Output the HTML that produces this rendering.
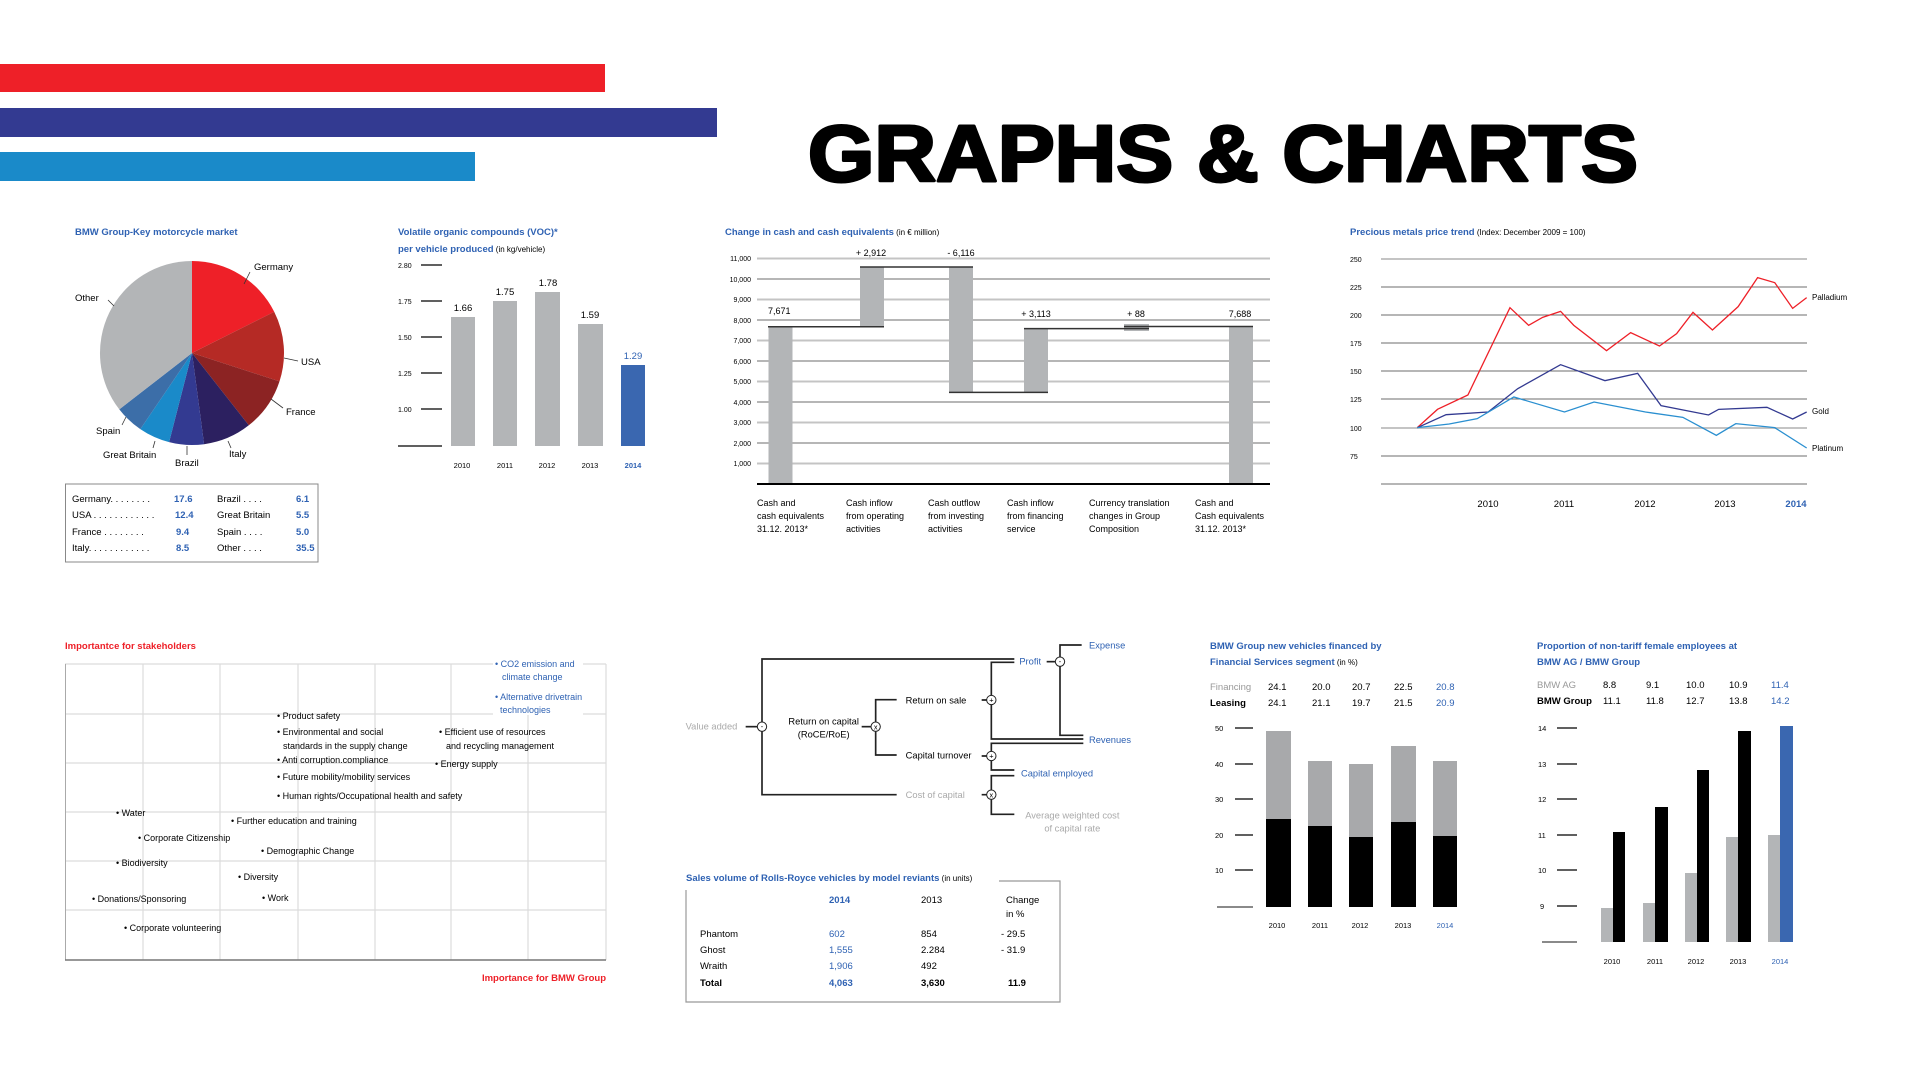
<!DOCTYPE html>
<html><head><meta charset="utf-8"><style>
html,body{margin:0;padding:0;background:#fff;}
svg{display:block;font-family:"Liberation Sans",Arial,sans-serif;}
.t{font-size:9.5px;fill:#000;}
.s{font-size:8px;fill:#000;}
.b{fill:#2f62b3;}
.ti{font-size:9.5px;font-weight:bold;fill:#2f62b3;}
.g{fill:#9a9a9a;}
</style></head><body>
<svg width="1921" height="1080" viewBox="0 0 1921 1080" xmlns="http://www.w3.org/2000/svg">
<rect width="1921" height="1080" fill="#fff"/>
<!-- header bars -->
<rect x="0" y="64" width="605" height="28" fill="#ee2028"/>
<rect x="0" y="108" width="717" height="29" fill="#333a91"/>
<rect x="0" y="152" width="475" height="29" fill="#1a8ac9"/>
<text x="808" y="181" font-size="80" textLength="830" lengthAdjust="spacingAndGlyphs" fill="#000" stroke="#000" stroke-width="3" stroke-linejoin="round" style="font-family:'Liberation Sans',sans-serif;font-weight:bold">GRAPHS &amp; CHARTS</text>

<!-- PIE -->
<text x="75" y="235" class="ti">BMW Group-Key motorcycle market</text>
<path d="M192,353 L192,261 A92,92 0 0 1 274.2,311.7 Z" fill="#ee2028"/>
<path d="M192,353 L274.2,311.7 A92,92 0 0 1 279.5,381.4 Z" fill="#b52a25"/>
<path d="M192,353 L279.5,381.4 A92,92 0 0 1 248.8,425.3 Z" fill="#8c2323"/>
<path d="M192,353 L248.8,425.3 A92,92 0 0 1 204.1,444.2 Z" fill="#2c2060"/>
<path d="M192,353 L204.1,444.2 A92,92 0 0 1 169.1,442.1 Z" fill="#333a91"/>
<path d="M192,353 L169.1,442.1 A92,92 0 0 1 140.3,429.1 Z" fill="#1a8ac9"/>
<path d="M192,353 L140.3,429.1 A92,92 0 0 1 119.3,409.4 Z" fill="#3c6ea8"/>
<path d="M192,353 L119.3,409.4 A92,92 0 0 1 192,261 Z" fill="#b3b5b7"/>
<g stroke="#333" stroke-width="0.8">
<line x1="250" y1="272" x2="244" y2="284"/><line x1="108" y1="300" x2="114" y2="306"/>
<line x1="284" y1="358" x2="298" y2="361"/><line x1="271" y1="399" x2="283" y2="408"/>
<line x1="228" y1="441" x2="231" y2="448"/><line x1="187" y1="446" x2="187" y2="455"/>
<line x1="155" y1="441" x2="153" y2="448"/><line x1="126" y1="417" x2="122" y2="425"/>
</g>
<text x="254" y="270" class="t">Germany</text>
<text x="75" y="301" class="t">Other</text>
<text x="301" y="365" class="t">USA</text>
<text x="286" y="415" class="t">France</text>
<text x="96" y="434" class="t">Spain</text>
<text x="103" y="458" class="t">Great Britain</text>
<text x="175" y="466" class="t">Brazil</text>
<text x="229" y="457" class="t">Italy</text>
<rect x="65.5" y="484" width="252.5" height="78" fill="none" stroke="#888" stroke-width="1"/>
<g class="s" style="font-size:9.5px">
<text x="72" y="502">Germany. . . . . . . .</text><text x="72" y="518">USA . . . . . . . . . . . .</text>
<text x="72" y="535">France    . . . . . . . .</text><text x="72" y="551">Italy. . . . . . . . . . . .</text>
<text x="217" y="502">Brazil      . . . .</text><text x="217" y="518">Great Britain</text>
<text x="217" y="535">Spain       . . . .</text><text x="217" y="551">Other      . . . .</text>
</g>
<g font-size="9.5" font-weight="bold" fill="#2f62b3">
<text x="174" y="502">17.6</text><text x="175" y="518">12.4</text><text x="176" y="535">9.4</text><text x="176" y="551">8.5</text>
<text x="296" y="502">6.1</text><text x="296" y="518">5.5</text><text x="296" y="535">5.0</text><text x="296" y="551">35.5</text>
</g>

<!-- VOC -->
<text x="398" y="235" class="ti">Volatile organic compounds (VOC)*</text>
<text x="398" y="252"><tspan class="ti">per vehicle produced</tspan><tspan class="s"> (in kg/vehicle)</tspan></text>
<g class="s" style="font-size:7px">
<text x="398" y="268">2.80</text><text x="398" y="304">1.75</text><text x="398" y="340">1.50</text><text x="398" y="376">1.25</text><text x="398" y="412">1.00</text>
</g>
<g stroke="#000" stroke-width="1.3">
<line x1="421" y1="265" x2="442" y2="265"/><line x1="421" y1="301" x2="442" y2="301"/><line x1="421" y1="337" x2="442" y2="337"/><line x1="421" y1="373" x2="442" y2="373"/><line x1="421" y1="409" x2="442" y2="409"/><line x1="398" y1="446" x2="442" y2="446"/>
</g>
<rect x="451" y="317" width="24" height="129" fill="#b3b5b7"/>
<rect x="493" y="301" width="24" height="145" fill="#b3b5b7"/>
<rect x="535" y="292" width="25" height="154" fill="#b3b5b7"/>
<rect x="578" y="324" width="25" height="122" fill="#b3b5b7"/>
<rect x="621" y="365" width="24" height="81" fill="#3a67b0"/>
<g class="t" text-anchor="middle">
<text x="463" y="311">1.66</text><text x="505" y="295">1.75</text><text x="548" y="286">1.78</text><text x="590" y="318">1.59</text><text x="633" y="359" class="b">1.29</text>
</g>
<g class="s" text-anchor="middle" style="font-size:7.5px">
<text x="462" y="468">2010</text><text x="505" y="468">2011</text><text x="547" y="468">2012</text><text x="590" y="468">2013</text><text x="633" y="468" class="b" font-weight="bold">2014</text>
</g>

<!-- WATERFALL -->
<text x="725" y="235"><tspan class="ti">Change in cash and cash equivalents</tspan><tspan class="s"> (in € million)</tspan></text>
<g stroke-width="2" stroke="#c4c4c4">
<line x1="757" y1="258.5" x2="1270" y2="258.5"/><line x1="757" y1="299.5" x2="1270" y2="299.5"/><line x1="757" y1="340.5" x2="1270" y2="340.5"/><line x1="757" y1="381.5" x2="1270" y2="381.5"/><line x1="757" y1="422.5" x2="1270" y2="422.5"/><line x1="757" y1="463.5" x2="1270" y2="463.5"/>
</g>
<g stroke-width="1" stroke="#6e6e6e">
<line x1="757" y1="279" x2="1270" y2="279"/><line x1="757" y1="320" x2="1270" y2="320"/><line x1="757" y1="361" x2="1270" y2="361"/><line x1="757" y1="402" x2="1270" y2="402"/><line x1="757" y1="443" x2="1270" y2="443"/>
</g>
<g class="s" text-anchor="end" style="font-size:7px">
<text x="751" y="261">11,000</text><text x="751" y="282">10,000</text><text x="751" y="302">9,000</text><text x="751" y="323">8,000</text><text x="751" y="343">7,000</text><text x="751" y="364">6,000</text><text x="751" y="384">5,000</text><text x="751" y="405">4,000</text><text x="751" y="425">3,000</text><text x="751" y="446">2,000</text><text x="751" y="466">1,000</text>
</g>
<rect x="768.5" y="326.7" width="24" height="157.3" fill="#b3b5b7"/>
<rect x="860" y="267" width="24" height="59.7" fill="#b3b5b7"/>
<rect x="949" y="267" width="24" height="125.4" fill="#b3b5b7"/>
<rect x="1024" y="328.6" width="24" height="63.8" fill="#b3b5b7"/>
<rect x="1124" y="324" width="25" height="7" fill="#b3b5b7"/>
<rect x="1229" y="326.4" width="24" height="157.6" fill="#b3b5b7"/>
<g stroke="#333" stroke-width="1.5">
<line x1="768" y1="326.7" x2="884" y2="326.7"/><line x1="860" y1="267" x2="973" y2="267"/><line x1="949" y1="392.4" x2="1048" y2="392.4"/><line x1="1024" y1="328.6" x2="1149" y2="328.6"/><line x1="1124" y1="326.5" x2="1253" y2="326.5"/>
<line x1="757" y1="484" x2="1270" y2="484" stroke-width="2" stroke="#000"/>
</g>
<g class="t" style="font-size:9px">
<text x="768" y="314">7,671</text><text x="871" y="256" text-anchor="middle">+ 2,912</text><text x="961" y="256" text-anchor="middle">- 6,116</text><text x="1036" y="317" text-anchor="middle">+ 3,113</text><text x="1136" y="317" text-anchor="middle">+ 88</text><text x="1240" y="317" text-anchor="middle">7,688</text>
</g>
<g class="t" style="font-size:9px">
<text x="757" y="506">Cash and</text><text x="757" y="519">cash equivalents</text><text x="757" y="532">31.12. 2013*</text>
<text x="846" y="506">Cash inflow</text><text x="846" y="519">from operating</text><text x="846" y="532">activities</text>
<text x="928" y="506">Cash outflow</text><text x="928" y="519">from investing</text><text x="928" y="532">activities</text>
<text x="1007" y="506">Cash inflow</text><text x="1007" y="519">from financing</text><text x="1007" y="532">service</text>
<text x="1089" y="506">Currency translation</text><text x="1089" y="519">changes in Group</text><text x="1089" y="532">Composition</text>
<text x="1195" y="506">Cash and</text><text x="1195" y="519">Cash equivalents</text><text x="1195" y="532">31.12. 2013*</text>
</g>

<!-- METALS -->
<text x="1350" y="235"><tspan class="ti">Precious metals price trend</tspan><tspan class="s"> (Index: December 2009 = 100)</tspan></text>
<g stroke="#c4c4c4" stroke-width="2"><line x1="1381" y1="259" x2="1807" y2="259"/><line x1="1381" y1="428" x2="1807" y2="428"/></g>
<g stroke="#6e6e6e" stroke-width="1"><line x1="1381" y1="287" x2="1807" y2="287"/><line x1="1381" y1="315" x2="1807" y2="315"/><line x1="1381" y1="343" x2="1807" y2="343"/><line x1="1381" y1="371" x2="1807" y2="371"/><line x1="1381" y1="399" x2="1807" y2="399"/><line x1="1381" y1="456" x2="1807" y2="456"/><line x1="1381" y1="484" x2="1807" y2="484"/></g>
<g class="s" style="font-size:7px"><text x="1350" y="262">250</text><text x="1350" y="290">225</text><text x="1350" y="318">200</text><text x="1350" y="346">175</text><text x="1350" y="374">150</text><text x="1350" y="402">125</text><text x="1350" y="431">100</text><text x="1350" y="459">75</text></g>
<g transform="translate(700,200) scale(0.7788,0.33333)" fill="none" stroke-width="1.3">
<polyline vector-effect="non-scaling-stroke" stroke="#ee2028" points="921,683 947,628 986,585 1040,323 1064,376 1082,352 1105,334 1122,376 1164,452 1195,398 1232,438 1254,401 1275,337 1300,390 1333,320 1358,233 1380,248 1403,325 1421,293"/>
<polyline vector-effect="non-scaling-stroke" stroke="#333a91" points="921,683 958,644 1012,636 1050,566 1105,494 1162,542 1204,520 1234,617 1295,645 1308,628 1370,622 1403,657 1421,636"/>
<polyline vector-effect="non-scaling-stroke" stroke="#2a8fd0" points="921,683 962,672 998,656 1045,591 1110,636 1148,606 1214,636 1262,652 1305,706 1330,671 1380,683 1421,744"/>
</g>
<g class="s" style="font-size:8px"><text x="1812" y="300">Palladium</text><text x="1812" y="414">Gold</text><text x="1812" y="451">Platinum</text></g>
<g class="t" text-anchor="middle" style="font-size:9.5px"><text x="1488" y="507">2010</text><text x="1564" y="507">2011</text><text x="1645" y="507">2012</text><text x="1725" y="507">2013</text><text x="1796" y="507" class="b" font-weight="bold">2014</text></g>

<!-- STAKEHOLDERS -->
<text x="65" y="649" font-size="9.5" font-weight="bold" fill="#ee2028">Importantce for stakeholders</text>
<g stroke="#dcdcdc" stroke-width="1.2">
<line x1="143" y1="664" x2="143" y2="960"/><line x1="220" y1="664" x2="220" y2="960"/><line x1="298" y1="664" x2="298" y2="960"/><line x1="375" y1="664" x2="375" y2="960"/><line x1="451" y1="664" x2="451" y2="960"/><line x1="528" y1="664" x2="528" y2="960"/>
<line x1="65" y1="714" x2="606" y2="714"/><line x1="65" y1="763" x2="606" y2="763"/><line x1="65" y1="812" x2="606" y2="812"/><line x1="65" y1="861" x2="606" y2="861"/><line x1="65" y1="910" x2="606" y2="910"/>
<line x1="65" y1="664" x2="606" y2="664"/><line x1="606" y1="664" x2="606" y2="960"/>
</g>
<line x1="65.5" y1="664" x2="65.5" y2="960" stroke="#aaa"/>
<line x1="65" y1="960" x2="606" y2="960" stroke="#777" stroke-width="1.5"/>
<rect x="493" y="657" width="90" height="58" fill="#fff"/>
<g class="t" style="font-size:9px">
<text x="495" y="667" class="b">• CO2 emission and</text><text x="502" y="680" class="b">climate change</text>
<text x="495" y="700" class="b">• Alternative drivetrain</text><text x="500" y="713" class="b">technologies</text>
<text x="277" y="719">• Product safety</text>
<text x="277" y="735">• Environmental and social</text><text x="283" y="749">standards in the supply change</text>
<text x="277" y="763">• Anti corruption.compliance</text>
<text x="277" y="780">• Future mobility/mobility services</text>
<text x="277" y="799">• Human rights/Occupational health and safety</text>
<text x="439" y="735">• Efficient use of resources</text><text x="446" y="749">and recycling management</text>
<text x="435" y="767">• Energy supply</text>
<text x="116" y="816">• Water</text>
<text x="231" y="824">• Further education and training</text>
<text x="138" y="841">• Corporate Citizenship</text>
<text x="261" y="854">• Demographic Change</text>
<text x="116" y="866">• Biodiversity</text>
<text x="238" y="880">• Diversity</text>
<text x="92" y="902">• Donations/Sponsoring</text>
<text x="262" y="901">• Work</text>
<text x="124" y="931">• Corporate volunteering</text>
</g>
<text x="606" y="981" text-anchor="end" font-size="9.5" font-weight="bold" fill="#ee2028">Importance for BMW Group</text>

<!-- TREE -->
<g transform="translate(680,630) scale(0.33333)" font-size="28">
<g fill="none" stroke="#222" stroke-width="5">
<path d="M1003,87 H246 V494 H650"/>
<path d="M197,290 H235"/>
<path d="M1003,97 H934 V327 H1210"/>
<path d="M1210,340 H934 V420 H1003"/>
<path d="M1003,437 H934 V553 H1003"/>
<path d="M1205,45 H1140 V316 H1210"/>
<path d="M1100,95 H1128"/>
<path d="M650,209 H587 V375 H650"/>
<path d="M545,290 H575"/>
<path d="M905,210 H922 M905,378 H922 M905,494 H922"/>
</g>
<g fill="#fff" stroke="#222" stroke-width="3">
<circle cx="246" cy="290" r="14"/><circle cx="587" cy="290" r="14"/><circle cx="934" cy="210" r="14"/><circle cx="934" cy="378" r="14"/><circle cx="934" cy="494" r="14"/><circle cx="1140" cy="95" r="14"/>
</g>
<g text-anchor="middle" font-size="22" fill="#000">
<text x="246" y="297">-</text><text x="587" y="298">x</text><text x="934" y="218">+</text><text x="934" y="386">+</text><text x="934" y="502">x</text><text x="1140" y="102">-</text>
</g>
<text x="17" y="299" fill="#aaa">Value added</text>
<text x="431" y="283" text-anchor="middle">Return on capital</text>
<text x="431" y="323" text-anchor="middle">(RoCE/RoE)</text>
<text x="677" y="220">Return on sale</text>
<text x="677" y="386">Capital turnover</text>
<text x="677" y="504" fill="#aaa">Cost of capital</text>
<text x="1018" y="103" fill="#2f62b3">Profit</text>
<text x="1227" y="55" fill="#2f62b3">Expense</text>
<text x="1227" y="339" fill="#2f62b3">Revenues</text>
<text x="1023" y="439" fill="#2f62b3">Capital employed</text>
<text x="1177" y="565" text-anchor="middle" fill="#aaa">Average weighted cost</text>
<text x="1177" y="605" text-anchor="middle" fill="#aaa">of capital rate</text>
</g>

<!-- ROLLS TABLE -->
<text x="686" y="881"><tspan class="ti">Sales volume of Rolls-Royce vehicles by model reviants</tspan><tspan class="s"> (in units)</tspan></text>
<path d="M999,881 H1060 V1002 H686 V890" fill="none" stroke="#999" stroke-width="1.2"/>
<g class="t" style="font-size:9.5px">
<text x="829" y="903" class="b" font-weight="bold">2014</text><text x="921" y="903">2013</text><text x="1006" y="903">Change</text><text x="1006" y="917">in %</text>
<text x="700" y="937">Phantom</text><text x="700" y="953">Ghost</text><text x="700" y="969">Wraith</text><text x="700" y="986" font-weight="bold">Total</text>
<text x="829" y="937" class="b">602</text><text x="829" y="953" class="b">1,555</text><text x="829" y="969" class="b">1,906</text><text x="829" y="986" class="b" font-weight="bold">4,063</text>
<text x="921" y="937">854</text><text x="921" y="953">2.284</text><text x="921" y="969">492</text><text x="921" y="986" font-weight="bold">3,630</text>
<text x="1001" y="937">- 29.5</text><text x="1001" y="953">- 31.9</text><text x="1008" y="986" font-weight="bold">11.9</text>
</g>

<!-- FINANCED -->
<text x="1210" y="649" class="ti">BMW Group new vehicles financed by</text>
<text x="1210" y="665"><tspan class="ti">Financial Services segment</tspan><tspan class="s"> (in %)</tspan></text>
<g class="t" style="font-size:9.5px">
<text x="1210" y="690" fill="#999">Financing</text><text x="1210" y="706" font-weight="bold">Leasing</text>
<text x="1268" y="690">24.1</text><text x="1312" y="690">20.0</text><text x="1352" y="690">20.7</text><text x="1394" y="690">22.5</text><text x="1436" y="690" class="b">20.8</text>
<text x="1268" y="706">24.1</text><text x="1312" y="706">21.1</text><text x="1352" y="706">19.7</text><text x="1394" y="706">21.5</text><text x="1436" y="706" class="b">20.9</text>
</g>
<g class="s" style="font-size:7.5px"><text x="1215" y="731">50</text><text x="1215" y="767">40</text><text x="1215" y="802">30</text><text x="1215" y="838">20</text><text x="1215" y="873">10</text></g>
<g stroke="#000" stroke-width="1.3"><line x1="1235" y1="728" x2="1253" y2="728"/><line x1="1235" y1="764" x2="1253" y2="764"/><line x1="1235" y1="799" x2="1253" y2="799"/><line x1="1235" y1="835" x2="1253" y2="835"/><line x1="1235" y1="870" x2="1253" y2="870"/><line x1="1217" y1="907" x2="1253" y2="907" stroke="#444"/></g>
<g fill="#a8a9ab"><rect x="1266" y="731" width="25" height="88"/><rect x="1308" y="761" width="24" height="65"/><rect x="1349" y="764" width="24" height="73"/><rect x="1391" y="746" width="25" height="76"/><rect x="1433" y="761" width="24" height="75"/></g>
<g fill="#000"><rect x="1266" y="819" width="25" height="88"/><rect x="1308" y="826" width="24" height="81"/><rect x="1349" y="837" width="24" height="70"/><rect x="1391" y="822" width="25" height="85"/><rect x="1433" y="836" width="24" height="71"/></g>
<g class="s" text-anchor="middle" style="font-size:7.5px"><text x="1277" y="928">2010</text><text x="1320" y="928">2011</text><text x="1360" y="928">2012</text><text x="1403" y="928">2013</text><text x="1445" y="928" class="b">2014</text></g>

<!-- FEMALE -->
<text x="1537" y="649" class="ti">Proportion of non-tariff female employees at</text>
<text x="1537" y="665" class="ti">BMW AG / BMW Group</text>
<g class="t" style="font-size:9.5px">
<text x="1537" y="688" fill="#999">BMW AG</text><text x="1537" y="704" font-weight="bold">BMW Group</text>
<text x="1603" y="688">8.8</text><text x="1646" y="688">9.1</text><text x="1686" y="688">10.0</text><text x="1729" y="688">10.9</text><text x="1771" y="688" class="b">11.4</text>
<text x="1603" y="704">11.1</text><text x="1646" y="704">11.8</text><text x="1686" y="704">12.7</text><text x="1729" y="704">13.8</text><text x="1771" y="704" class="b">14.2</text>
</g>
<g class="s" style="font-size:7.5px"><text x="1538" y="731">14</text><text x="1538" y="767">13</text><text x="1538" y="802">12</text><text x="1538" y="838">11</text><text x="1538" y="873">10</text><text x="1540" y="909">9</text></g>
<g stroke="#000" stroke-width="1.3"><line x1="1557" y1="728" x2="1577" y2="728"/><line x1="1557" y1="764" x2="1577" y2="764"/><line x1="1557" y1="799" x2="1577" y2="799"/><line x1="1557" y1="835" x2="1577" y2="835"/><line x1="1557" y1="870" x2="1577" y2="870"/><line x1="1557" y1="906" x2="1577" y2="906"/><line x1="1542" y1="942" x2="1577" y2="942" stroke="#444"/></g>
<g fill="#b3b5b7"><rect x="1601" y="908" width="12" height="34"/><rect x="1643" y="903" width="12" height="39"/><rect x="1685" y="873" width="12" height="69"/><rect x="1726" y="837" width="12" height="105"/><rect x="1768" y="835" width="12" height="107"/></g>
<g fill="#000"><rect x="1613" y="832" width="12" height="110"/><rect x="1655" y="807" width="13" height="135"/><rect x="1697" y="770" width="12" height="172"/><rect x="1738" y="731" width="13" height="211"/></g>
<rect x="1780" y="726" width="13" height="216" fill="#3a67b0"/>
<g class="s" text-anchor="middle" style="font-size:7.5px"><text x="1612" y="964">2010</text><text x="1655" y="964">2011</text><text x="1696" y="964">2012</text><text x="1738" y="964">2013</text><text x="1780" y="964" class="b">2014</text></g>
</svg>
</body></html>
